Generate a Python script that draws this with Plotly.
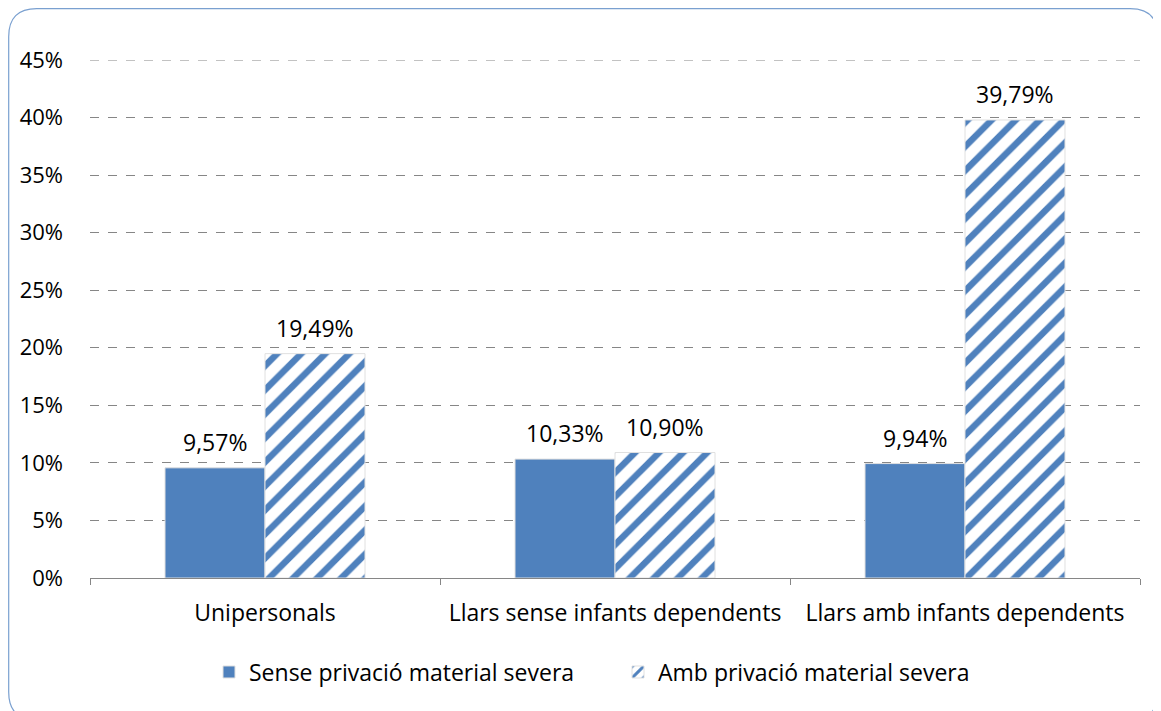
import plotly.graph_objects as go

categories = ["Unipersonals", "Llars sense infants dependents", "Llars amb infants dependents"]
sense = [9.57, 10.33, 9.94]
amb = [19.49, 10.90, 39.79]
series_names = ["Sense privació material severa", "Amb privació material severa"]

BLUE = "#4f81bd"
FONT = "'Open Sans', sans-serif"
FS = 23

fig = go.Figure()
fig.add_trace(go.Bar(
    x=categories, y=sense, name=series_names[0],
    marker=dict(color=BLUE, line=dict(color="#e0e0e0", width=1)),
))
fig.add_trace(go.Bar(
    x=categories, y=amb, name=series_names[1],
    marker=dict(color="white", line=dict(color="#e0e0e0", width=1),
                pattern=dict(shape="/", fgcolor=BLUE, bgcolor="white", size=17,
                             solidity=0.38, fgopacity=1)),
))

# data labels placed via data coordinates
annotations = []
for vals, shift in ((sense, -50), (amb, 50)):
    for c, v in zip(categories, vals):
        annotations.append(dict(
            x=c, y=v, xref="x", yref="y", text=f"{v:.2f}%".replace(".", ","),
            showarrow=False, xshift=shift, yshift=26, yanchor="middle",
            font=dict(size=FS, family=FONT, color="#000000"),
        ))

L, R, T, B = 82, 21, 52, 133
W, H = 1153, 703
pw, ph = W - L - R, H - T - B

def px(x):
    return (x - L) / pw

def py(y):
    return (H - B - y) / ph

x0, x1, y0, y1, r = 0.7, 1150, 0.7, 712, 28
path = (
    f"M {px(x0 + r)},{py(y0)} L {px(x1 - r)},{py(y0)} "
    f"Q {px(x1)},{py(y0)} {px(x1)},{py(y0 + r)} "
    f"L {px(x1)},{py(y1 - r)} Q {px(x1)},{py(y1)} {px(x1 - r)},{py(y1)} "
    f"L {px(x0 + r)},{py(y1)} Q {px(x0)},{py(y1)} {px(x0)},{py(y1 - r)} "
    f"L {px(x0)},{py(y0 + r)} Q {px(x0)},{py(y0)} {px(x0 + r)},{py(y0)} Z"
)

YMAX = 45
fig.update_layout(
    width=W, height=H,
    margin=dict(l=L, r=R, t=T, b=B),
    paper_bgcolor="white", plot_bgcolor="white",
    separators=",.",
    barmode="group", bargap=0.4286, bargroupgap=0,
    font=dict(family=FONT, size=FS, color="#000000"),
    showlegend=True,
    legend=dict(orientation="h", x=px(201), xanchor="left", y=-0.14, yanchor="top",
                font=dict(size=FS, family=FONT), traceorder="normal",
                itemwidth=30, entrywidth=364, entrywidthmode="pixels"),
    annotations=annotations,
    shapes=[
        dict(type="path", path=path, xref="paper", yref="paper",
             line=dict(color="#7aa0d0", width=1.2), layer="below"),
        dict(type="line", xref="paper", yref="y", x0=0, x1=1, y0=YMAX, y1=YMAX,
             line=dict(color="#868686", width=1, dash="dash"), layer="below"),
    ],
)
fig.update_yaxes(
    range=[0, YMAX], dtick=5, tick0=0, ticksuffix="%", showgrid=True,
    gridcolor="#868686", griddash="dash", gridwidth=1,
    zeroline=False, showline=False, ticks="", ticklabelstandoff=26,
    tickfont=dict(size=22, family=FONT),
)
fig.update_xaxes(
    showline=True, linecolor="#868686", linewidth=1,
    ticks="outside", tickson="boundaries", ticklen=6, tickcolor="#868686",
    ticklabelstandoff=14,
    tickfont=dict(size=FS, family=FONT),
)

fig.write_html("out.html")
